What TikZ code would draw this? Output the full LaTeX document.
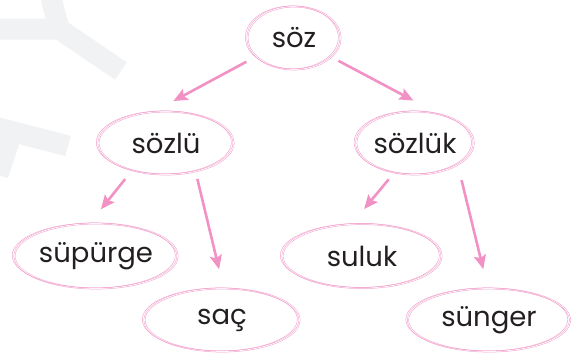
\documentclass[tikz,border=0pt]{standalone}
\usepackage{fontspec}
\setmainfont{Poppins}
\usetikzlibrary{arrows}
\usetikzlibrary{arrows.meta}
\usetikzlibrary{shapes.geometric}

\definecolor{pinkline}{RGB}{242,160,203}
\definecolor{pinkarrow}{RGB}{241,145,196}
\definecolor{inkblack}{RGB}{35,31,32}
\definecolor{markgrey}{RGB}{241,242,243}

\tikzset{
  word/.style={ellipse, draw=pinkline, line width=0.5pt, double=white, double distance=0.7pt,
    inner sep=0pt, text=inkblack, font=\fontsize{27.5}{31}\selectfont,
    postaction={draw=pinkline, line width=0.45pt, transform canvas={xshift=-2.2pt, yshift=0.6pt}}},
  link/.style={pinkarrow, line width=2.6pt, -{Stealth[length=14pt, width=12pt, inset=2.5pt]}},
  watermark/.style={markgrey, line width=21pt, line cap=butt, line join=miter}
}

\begin{document}
\begin{tikzpicture}[x=1pt,y=-1pt]
    \useasboundingbox (0,0) rectangle (577,356);
    \draw[watermark] (0,29) -- (59,29) -- (121,71);
    \draw[watermark] (51,-2) -- (59,29);
    \draw[watermark] (-5,127) -- (68,146);
    \draw[watermark] (10,138) -- (-2,175);

    \node[word, minimum width=93pt, minimum height=63pt] (soz) at (294,38) {söz};
    \node[word, minimum width=135pt, minimum height=63pt] (sozlu) at (166,143) {sözlü};
    \node[word, minimum width=109pt, minimum height=63pt] (sozluk) at (415,143) {sözlük};
    \node[word, minimum width=163pt, minimum height=65pt] (supurge) at (96,256) {süpürge};
    \node[word, minimum width=155pt, minimum height=63pt] (sac) at (222,320) {saç};
    \node[word, minimum width=159pt, minimum height=64pt] (suluk) at (362,256) {suluk};
    \node[word, minimum width=162pt, minimum height=63pt] (sunger) at (489,320) {sünger};

    \draw[link, shorten <=11pt, shorten >=22.7pt] (soz.206) -- (sozlu.112);
    \draw[link, shorten <=8pt, shorten >=28.5pt] (soz.333) -- (sozluk.51);
    \draw[link, shorten <=11pt, shorten >=18pt] (sozlu.219) -- (supurge.101);
    \draw[link, shorten <=7.5pt, shorten >=19.5pt] (sozlu.-44) -- (sac.87);
    \draw[link, shorten <=8.6pt, shorten >=19.5pt] (sozluk.235) -- (suluk.108);
    \draw[link, shorten <=15.8pt, shorten >=19.6pt] (sozluk.-27) -- (sunger.92);
\end{tikzpicture}
\end{document}
